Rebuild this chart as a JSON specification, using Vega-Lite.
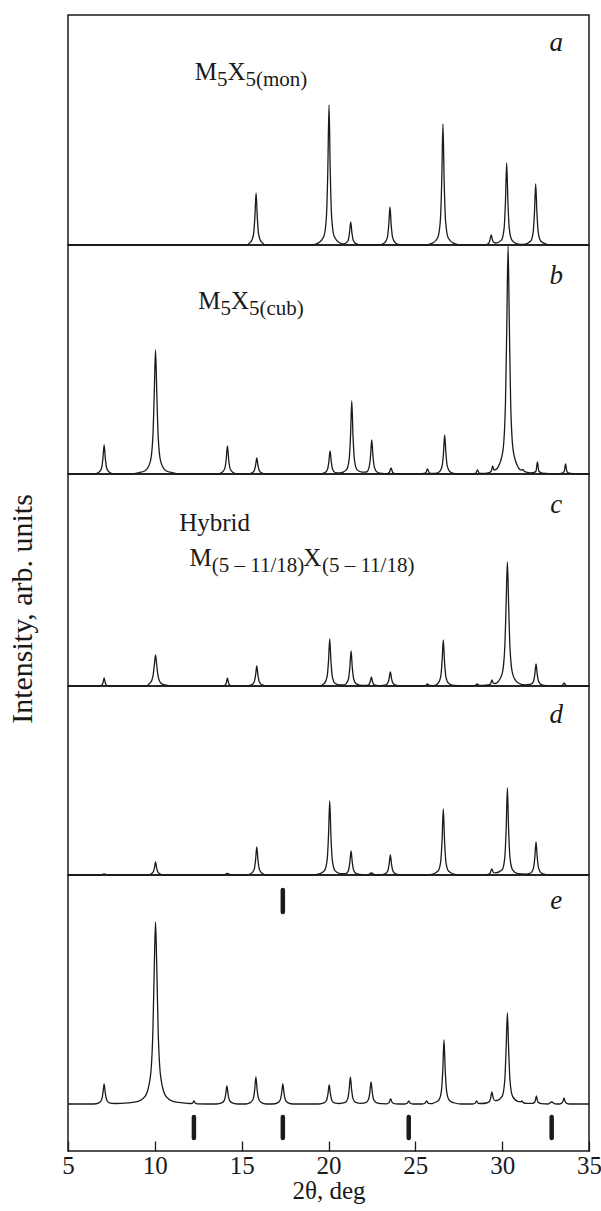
{
"$schema": "https://vega.github.io/schema/vega-lite/v6.json",
"padding": {"left": 7, "top": 14, "right": 0, "bottom": 2},
"bounds": "flush",
"title": {"text": "Intensity, arb. units", "orient": "left", "anchor": "middle", "font": "Liberation Serif", "fontSize": 30, "fontWeight": "normal", "color": "#1a1a1a", "offset": 23},
"spacing": 0,
"config": {"view": {"stroke": "#1a1a1a", "strokeWidth": 1.5}, "font": "Liberation Serif"},
"datasets": {
"sa": [{"x":5,"y":0},{"x":15.23,"y":0},{"x":15.53,"y":3.1},{"x":15.68,"y":10.4},{"x":15.76,"y":27.6},{"x":15.83,"y":52},{"x":15.9,"y":27.6},{"x":15.98,"y":10.4},{"x":16.13,"y":3.1},{"x":16.43,"y":0},{"x":19.03,"y":0},{"x":19.43,"y":2.1},{"x":19.73,"y":8.4},{"x":19.88,"y":28},{"x":19.96,"y":74.2},{"x":20.03,"y":140},{"x":20.1,"y":74.2},{"x":20.18,"y":28},{"x":20.33,"y":8.4},{"x":20.63,"y":2.3},{"x":20.85,"y":1.2},{"x":20.98,"y":1.8},{"x":21.13,"y":4.6},{"x":21.21,"y":12.2},{"x":21.28,"y":23},{"x":21.35,"y":12.2},{"x":21.43,"y":4.6},{"x":21.58,"y":1.4},{"x":21.88,"y":0},{"x":22.94,"y":0},{"x":23.24,"y":2.3},{"x":23.39,"y":7.6},{"x":23.47,"y":20.1},{"x":23.54,"y":38},{"x":23.61,"y":20.1},{"x":23.69,"y":7.6},{"x":23.84,"y":2.3},{"x":24.14,"y":0},{"x":25.59,"y":0},{"x":25.99,"y":1.8},{"x":26.29,"y":7.3},{"x":26.44,"y":24.2},{"x":26.52,"y":64.1},{"x":26.59,"y":121},{"x":26.66,"y":64.1},{"x":26.74,"y":24.2},{"x":26.89,"y":7.3},{"x":27.19,"y":1.8},{"x":27.59,"y":0},{"x":28.97,"y":0},{"x":29.22,"y":1.5},{"x":29.3,"y":5.3},{"x":29.37,"y":10},{"x":29.44,"y":5.3},{"x":29.52,"y":2.5},{"x":29.62,"y":2},{"x":29.96,"y":4.9},{"x":30.11,"y":16.4},{"x":30.19,"y":43.5},{"x":30.26,"y":82},{"x":30.33,"y":43.5},{"x":30.41,"y":16.4},{"x":30.56,"y":4.9},{"x":30.86,"y":1.2},{"x":31.25,"y":0.6},{"x":31.63,"y":3.7},{"x":31.78,"y":12.2},{"x":31.86,"y":32.3},{"x":31.93,"y":61},{"x":32,"y":32.3},{"x":32.08,"y":12.2},{"x":32.23,"y":3.7},{"x":32.53,"y":0.9},{"x":32.93,"y":0},{"x":35,"y":0}],
"sb": [{"x":5,"y":0},{"x":6.48,"y":0},{"x":6.78,"y":1.7},{"x":6.93,"y":5.8},{"x":7.01,"y":15.4},{"x":7.08,"y":29},{"x":7.15,"y":15.4},{"x":7.23,"y":5.8},{"x":7.38,"y":1.7},{"x":7.68,"y":0},{"x":8.44,"y":0},{"x":9.04,"y":1.2},{"x":9.44,"y":3.3},{"x":9.74,"y":12.4},{"x":9.89,"y":38.4},{"x":9.97,"y":83},{"x":10.04,"y":124},{"x":10.11,"y":83},{"x":10.19,"y":38.4},{"x":10.34,"y":12.4},{"x":10.64,"y":3.3},{"x":11.04,"y":1.2},{"x":11.64,"y":0},{"x":13.58,"y":0},{"x":13.88,"y":1.7},{"x":14.03,"y":5.6},{"x":14.11,"y":14.8},{"x":14.18,"y":28},{"x":14.25,"y":14.8},{"x":14.33,"y":5.6},{"x":14.48,"y":1.7},{"x":14.78,"y":0},{"x":15.27,"y":0},{"x":15.57,"y":1},{"x":15.72,"y":3.2},{"x":15.8,"y":8.5},{"x":15.87,"y":16},{"x":15.94,"y":8.5},{"x":16.02,"y":3.2},{"x":16.17,"y":1},{"x":16.47,"y":0},{"x":19.49,"y":0},{"x":19.79,"y":1.4},{"x":19.94,"y":4.6},{"x":20.02,"y":12.2},{"x":20.09,"y":23},{"x":20.16,"y":12.2},{"x":20.24,"y":4.6},{"x":20.39,"y":1.4},{"x":20.7,"y":1.2},{"x":21.04,"y":4.4},{"x":21.19,"y":14.6},{"x":21.27,"y":38.7},{"x":21.34,"y":73},{"x":21.41,"y":38.7},{"x":21.49,"y":14.6},{"x":21.64,"y":4.4},{"x":21.94,"y":1.8},{"x":22.19,"y":2},{"x":22.34,"y":6.8},{"x":22.42,"y":18},{"x":22.49,"y":34},{"x":22.56,"y":18},{"x":22.64,"y":6.8},{"x":22.79,"y":2},{"x":23.09,"y":0.5},{"x":23.35,"y":0.3},{"x":23.5,"y":1.5},{"x":23.6,"y":6},{"x":23.7,"y":1.5},{"x":23.85,"y":0.3},{"x":25.2,"y":0},{"x":25.5,"y":0.5},{"x":25.6,"y":1.2},{"x":25.7,"y":5},{"x":25.8,"y":1.2},{"x":25.95,"y":0.6},{"x":26.1,"y":0.6},{"x":26.39,"y":2.3},{"x":26.54,"y":7.8},{"x":26.62,"y":20.7},{"x":26.69,"y":39},{"x":26.76,"y":20.7},{"x":26.84,"y":7.8},{"x":26.99,"y":2.3},{"x":27.29,"y":0.3},{"x":27.9,"y":0},{"x":28.3,"y":0},{"x":28.48,"y":0.8},{"x":28.58,"y":4},{"x":28.68,"y":0.8},{"x":28.85,"y":0.6},{"x":29.2,"y":1.2},{"x":29.37,"y":2.8},{"x":29.45,"y":8},{"x":29.53,"y":4},{"x":29.62,"y":4.4},{"x":29.74,"y":6.2},{"x":30.04,"y":22.8},{"x":30.19,"y":70.7},{"x":30.27,"y":152.8},{"x":30.34,"y":228},{"x":30.41,"y":152.8},{"x":30.49,"y":70.7},{"x":30.64,"y":22.8},{"x":30.94,"y":6.2},{"x":31.1,"y":3.8},{"x":31.17,"y":4.5},{"x":31.3,"y":2.3},{"x":31.6,"y":1.2},{"x":31.8,"y":1.3},{"x":31.95,"y":3},{"x":32.03,"y":12},{"x":32.11,"y":3},{"x":32.3,"y":0.8},{"x":32.7,"y":0.3},{"x":33.3,"y":0.3},{"x":33.5,"y":1.2},{"x":33.58,"y":3},{"x":33.65,"y":10},{"x":33.72,"y":3},{"x":33.8,"y":1.2},{"x":34.1,"y":0.3},{"x":34.6,"y":0},{"x":35,"y":0}],
"sc": [{"x":5,"y":0},{"x":6.75,"y":0},{"x":6.95,"y":1},{"x":7.02,"y":3.5},{"x":7.08,"y":8},{"x":7.14,"y":3.5},{"x":7.21,"y":1},{"x":7.4,"y":0},{"x":9.44,"y":0},{"x":9.74,"y":3.1},{"x":9.89,"y":9.6},{"x":9.97,"y":20.8},{"x":10.04,"y":31},{"x":10.11,"y":20.8},{"x":10.19,"y":9.6},{"x":10.34,"y":3.1},{"x":10.64,"y":0.8},{"x":11.04,"y":0},{"x":13.85,"y":0},{"x":14.05,"y":1},{"x":14.12,"y":3.5},{"x":14.18,"y":8},{"x":14.24,"y":3.5},{"x":14.31,"y":1},{"x":14.5,"y":0},{"x":15.27,"y":0},{"x":15.57,"y":1.2},{"x":15.72,"y":4},{"x":15.8,"y":10.6},{"x":15.87,"y":20},{"x":15.94,"y":10.6},{"x":16.02,"y":4},{"x":16.17,"y":1.2},{"x":16.47,"y":0},{"x":19.47,"y":0},{"x":19.77,"y":2.8},{"x":19.92,"y":9.4},{"x":20,"y":24.9},{"x":20.07,"y":47},{"x":20.14,"y":24.9},{"x":20.22,"y":9.4},{"x":20.37,"y":2.8},{"x":20.67,"y":1},{"x":20.9,"y":1},{"x":21,"y":2.1},{"x":21.15,"y":7},{"x":21.23,"y":18.6},{"x":21.3,"y":35},{"x":21.37,"y":18.6},{"x":21.45,"y":7},{"x":21.6,"y":2.1},{"x":21.95,"y":0.5},{"x":22.2,"y":0.7},{"x":22.34,"y":1.8},{"x":22.41,"y":4.8},{"x":22.47,"y":9},{"x":22.53,"y":4.8},{"x":22.6,"y":1.8},{"x":22.77,"y":0.6},{"x":23,"y":0.3},{"x":23.26,"y":0.8},{"x":23.41,"y":2.8},{"x":23.49,"y":7.4},{"x":23.56,"y":14},{"x":23.63,"y":7.4},{"x":23.71,"y":2.8},{"x":23.86,"y":0.8},{"x":24.16,"y":0},{"x":25.45,"y":0},{"x":25.6,"y":0.5},{"x":25.7,"y":2},{"x":25.8,"y":0.5},{"x":26.05,"y":0.4},{"x":26.31,"y":2.8},{"x":26.46,"y":9.2},{"x":26.54,"y":24.4},{"x":26.61,"y":46},{"x":26.68,"y":24.4},{"x":26.76,"y":9.2},{"x":26.91,"y":2.8},{"x":27.21,"y":0.5},{"x":27.8,"y":0},{"x":28.3,"y":0},{"x":28.45,"y":0.5},{"x":28.56,"y":2},{"x":28.67,"y":0.5},{"x":28.9,"y":0.5},{"x":29.2,"y":1},{"x":29.33,"y":2},{"x":29.41,"y":6},{"x":29.49,"y":2.8},{"x":29.6,"y":2.5},{"x":29.7,"y":3.3},{"x":30,"y":12.4},{"x":30.15,"y":38.4},{"x":30.23,"y":83},{"x":30.3,"y":124},{"x":30.37,"y":83},{"x":30.45,"y":38.4},{"x":30.6,"y":12.4},{"x":30.9,"y":3.3},{"x":31.3,"y":1.2},{"x":31.65,"y":1.8},{"x":31.8,"y":4.4},{"x":31.88,"y":11.7},{"x":31.95,"y":22},{"x":32.02,"y":11.7},{"x":32.1,"y":4.4},{"x":32.25,"y":1.3},{"x":32.55,"y":0.3},{"x":33.3,"y":0},{"x":33.47,"y":0.7},{"x":33.57,"y":3},{"x":33.67,"y":0.7},{"x":33.85,"y":0},{"x":35,"y":0}],
"sd": [{"x":5,"y":0},{"x":6.85,"y":0},{"x":7.08,"y":1},{"x":7.3,"y":0},{"x":9.6,"y":0},{"x":9.8,"y":1.2},{"x":9.92,"y":3.5},{"x":9.98,"y":7.5},{"x":10.04,"y":13},{"x":10.1,"y":7.5},{"x":10.16,"y":3.5},{"x":10.28,"y":1.2},{"x":10.5,"y":0},{"x":13.95,"y":0},{"x":14.18,"y":1.5},{"x":14.4,"y":0},{"x":15.27,"y":0},{"x":15.57,"y":1.7},{"x":15.72,"y":5.6},{"x":15.8,"y":14.8},{"x":15.87,"y":28},{"x":15.94,"y":14.8},{"x":16.02,"y":5.6},{"x":16.17,"y":1.7},{"x":16.47,"y":0},{"x":19.07,"y":0},{"x":19.47,"y":1.1},{"x":19.77,"y":4.4},{"x":19.92,"y":14.8},{"x":20,"y":39.2},{"x":20.07,"y":74},{"x":20.14,"y":39.2},{"x":20.22,"y":14.8},{"x":20.37,"y":4.4},{"x":20.67,"y":1.4},{"x":21,"y":1.4},{"x":21.15,"y":4.8},{"x":21.23,"y":12.7},{"x":21.3,"y":24},{"x":21.37,"y":12.7},{"x":21.45,"y":4.8},{"x":21.6,"y":1.4},{"x":21.95,"y":0.3},{"x":22.25,"y":0},{"x":22.47,"y":2},{"x":22.7,"y":0},{"x":22.96,"y":0},{"x":23.26,"y":1.2},{"x":23.41,"y":4},{"x":23.49,"y":10.6},{"x":23.56,"y":20},{"x":23.63,"y":10.6},{"x":23.71,"y":4},{"x":23.86,"y":1.2},{"x":24.16,"y":0},{"x":25.61,"y":0},{"x":26.01,"y":1},{"x":26.31,"y":4},{"x":26.46,"y":13.2},{"x":26.54,"y":35},{"x":26.61,"y":66},{"x":26.68,"y":35},{"x":26.76,"y":13.2},{"x":26.91,"y":4},{"x":27.21,"y":1},{"x":27.61,"y":0},{"x":29.1,"y":0.3},{"x":29.3,"y":1.7},{"x":29.4,"y":6},{"x":29.5,"y":2.5},{"x":29.62,"y":2.2},{"x":30,"y":5.2},{"x":30.15,"y":17.4},{"x":30.23,"y":46.1},{"x":30.3,"y":87},{"x":30.37,"y":46.1},{"x":30.45,"y":17.4},{"x":30.6,"y":5.2},{"x":30.9,"y":1.3},{"x":31.35,"y":0.8},{"x":31.65,"y":2},{"x":31.8,"y":6.6},{"x":31.88,"y":17.5},{"x":31.95,"y":33},{"x":32.02,"y":17.5},{"x":32.1,"y":6.6},{"x":32.25,"y":2},{"x":32.55,"y":0.3},{"x":32.95,"y":0},{"x":35,"y":0}],
"se": [{"x":5,"y":0},{"x":6.48,"y":0},{"x":6.78,"y":1.2},{"x":6.93,"y":4},{"x":7.01,"y":10.6},{"x":7.08,"y":20},{"x":7.15,"y":10.6},{"x":7.23,"y":4},{"x":7.38,"y":1.2},{"x":7.68,"y":0.5},{"x":8.44,"y":1.1},{"x":9.04,"y":2.7},{"x":9.44,"y":7.6},{"x":9.74,"y":26.9},{"x":9.89,"y":74.6},{"x":9.97,"y":138},{"x":10.04,"y":182},{"x":10.11,"y":138},{"x":10.19,"y":74.6},{"x":10.34,"y":26.9},{"x":10.64,"y":7.6},{"x":11.04,"y":2.7},{"x":11.64,"y":1.1},{"x":12.0,"y":0.5},{"x":12.1,"y":0.5},{"x":12.18,"y":1},{"x":12.25,"y":3},{"x":12.32,"y":1},{"x":12.45,"y":0.2},{"x":13.55,"y":0},{"x":13.85,"y":1.1},{"x":14,"y":3.6},{"x":14.08,"y":9.5},{"x":14.15,"y":18},{"x":14.22,"y":9.5},{"x":14.3,"y":3.6},{"x":14.45,"y":1.1},{"x":14.75,"y":0},{"x":15.22,"y":0},{"x":15.52,"y":1.6},{"x":15.67,"y":5.4},{"x":15.75,"y":14.3},{"x":15.82,"y":27},{"x":15.89,"y":14.3},{"x":15.97,"y":5.4},{"x":16.12,"y":1.6},{"x":16.42,"y":0},{"x":16.77,"y":0},{"x":17.07,"y":1.2},{"x":17.22,"y":4},{"x":17.3,"y":10.6},{"x":17.37,"y":20},{"x":17.44,"y":10.6},{"x":17.52,"y":4},{"x":17.67,"y":1.2},{"x":17.97,"y":0},{"x":19.44,"y":0},{"x":19.74,"y":1.1},{"x":19.89,"y":3.8},{"x":19.97,"y":10.1},{"x":20.04,"y":19},{"x":20.11,"y":10.1},{"x":20.19,"y":3.8},{"x":20.34,"y":1.1},{"x":20.64,"y":0.5},{"x":20.96,"y":1.6},{"x":21.11,"y":5.4},{"x":21.19,"y":14.3},{"x":21.26,"y":27},{"x":21.33,"y":14.3},{"x":21.41,"y":5.4},{"x":21.56,"y":1.6},{"x":21.86,"y":0.7},{"x":22.15,"y":1.3},{"x":22.3,"y":4.4},{"x":22.38,"y":11.7},{"x":22.45,"y":22},{"x":22.52,"y":11.7},{"x":22.6,"y":4.4},{"x":22.75,"y":1.3},{"x":23.05,"y":0.3},{"x":23.35,"y":0.2},{"x":23.48,"y":1.2},{"x":23.58,"y":5},{"x":23.68,"y":1.2},{"x":23.85,"y":0.2},{"x":24.4,"y":0},{"x":24.53,"y":0.7},{"x":24.62,"y":3},{"x":24.71,"y":0.7},{"x":24.85,"y":0},{"x":25.4,"y":0},{"x":25.55,"y":0.7},{"x":25.65,"y":3},{"x":25.75,"y":0.7},{"x":25.95,"y":0.3},{"x":26.05,"y":1},{"x":26.35,"y":3.8},{"x":26.5,"y":12.8},{"x":26.58,"y":33.9},{"x":26.65,"y":64},{"x":26.72,"y":33.9},{"x":26.8,"y":12.8},{"x":26.95,"y":3.8},{"x":27.25,"y":1},{"x":27.65,"y":0},{"x":28.3,"y":0},{"x":28.44,"y":0.7},{"x":28.53,"y":3},{"x":28.62,"y":0.7},{"x":28.8,"y":0.5},{"x":29.1,"y":1},{"x":29.27,"y":2.5},{"x":29.34,"y":6.4},{"x":29.41,"y":12},{"x":29.48,"y":6.4},{"x":29.58,"y":3.3},{"x":29.7,"y":3.5},{"x":30,"y":7.6},{"x":30.15,"y":23.7},{"x":30.23,"y":56.4},{"x":30.3,"y":91},{"x":30.37,"y":56.4},{"x":30.45,"y":23.7},{"x":30.6,"y":7.6},{"x":30.9,"y":2.6},{"x":31.05,"y":2.2},{"x":31.13,"y":3},{"x":31.22,"y":1.4},{"x":31.4,"y":0.6},{"x":31.75,"y":0.6},{"x":31.88,"y":2},{"x":31.92,"y":4.2},{"x":31.97,"y":8},{"x":32.02,"y":4.2},{"x":32.06,"y":2},{"x":32.25,"y":0.4},{"x":32.65,"y":0},{"x":32.85,"y":2},{"x":33.05,"y":0.2},{"x":33.3,"y":0},{"x":33.45,"y":1.2},{"x":33.51,"y":3.2},{"x":33.56,"y":6},{"x":33.61,"y":3.2},{"x":33.67,"y":1.2},{"x":33.85,"y":0},{"x":35,"y":0}],
"bars": [{"x":17.37,"y1":192,"y2":214},{"x":12.25,"y1":-13,"y2":-34},{"x":17.37,"y1":-13,"y2":-34},{"x":24.62,"y1":-13,"y2":-34},{"x":32.85,"y1":-13,"y2":-34}],
"tags": [{"p":"a","x":33.12,"y":194,"t":"a"},{"p":"b","x":33.12,"y":190,"t":"b"},{"p":"c","x":33.12,"y":173,"t":"c"},{"p":"d","x":33.12,"y":152,"t":"d"},{"p":"e","x":33.12,"y":195,"t":"e"}],
"mains": [{"p":"a","x":12.3,"y":165,"t":"M"},{"p":"a","x":14.18,"y":165,"t":"X"},{"p":"b","x":12.5,"y":165,"t":"M"},{"p":"b","x":14.38,"y":165,"t":"X"},{"p":"c","x":11.4,"y":155,"t":"Hybrid"},{"p":"c","x":12.0,"y":120,"t":"M"},{"p":"c","x":18.55,"y":120,"t":"X"}],
"subs": [{"p":"a","x":13.58,"y":159,"t":"5"},{"p":"a","x":15.22,"y":159,"t":"5(mon)"},{"p":"b","x":13.78,"y":159,"t":"5"},{"p":"b","x":15.42,"y":159,"t":"5(cub)"},{"p":"c","x":13.28,"y":114,"t":"(5 – 11/18)"},{"p":"c","x":19.62,"y":114,"t":"(5 – 11/18)"}]
},
"vconcat": [
{"width": 521, "height": 230, "layer": [
 {"data": {"name": "sa"}, "mark": {"type": "line", "interpolate": "monotone", "stroke": "#1a1a1a", "strokeWidth": 1.3},
  "encoding": {"x": {"field": "x", "type": "quantitative", "scale": {"domain": [5, 35], "nice": false, "zero": false}, "axis": null}, "y": {"field": "y", "type": "quantitative", "scale": {"domain": [0, 230], "nice": false, "zero": false}, "axis": null}}},
 {"data": {"name": "tags"}, "transform": [{"filter": "datum.p === 'a'"}], "mark": {"type": "text", "font": "Liberation Serif", "fontStyle": "italic", "fontSize": 27, "align": "center", "baseline": "alphabetic", "color": "#1a1a1a"},
  "encoding": {"x": {"field": "x", "type": "quantitative"}, "y": {"field": "y", "type": "quantitative"}, "text": {"field": "t"}}},
 {"data": {"name": "mains"}, "transform": [{"filter": "datum.p === 'a'"}], "mark": {"type": "text", "font": "Liberation Serif", "fontSize": 25, "align": "left", "baseline": "alphabetic", "color": "#1a1a1a"},
  "encoding": {"x": {"field": "x", "type": "quantitative"}, "y": {"field": "y", "type": "quantitative"}, "text": {"field": "t"}}},
 {"data": {"name": "subs"}, "transform": [{"filter": "datum.p === 'a'"}], "mark": {"type": "text", "font": "Liberation Serif", "fontSize": 21, "align": "left", "baseline": "alphabetic", "color": "#1a1a1a"},
  "encoding": {"x": {"field": "x", "type": "quantitative"}, "y": {"field": "y", "type": "quantitative"}, "text": {"field": "t"}}}
]},
{"width": 521, "height": 229, "layer": [
 {"data": {"name": "sb"}, "mark": {"type": "line", "interpolate": "monotone", "stroke": "#1a1a1a", "strokeWidth": 1.3},
  "encoding": {"x": {"field": "x", "type": "quantitative", "scale": {"domain": [5, 35], "nice": false, "zero": false}, "axis": null}, "y": {"field": "y", "type": "quantitative", "scale": {"domain": [0, 229], "nice": false, "zero": false}, "axis": null}}},
 {"data": {"name": "tags"}, "transform": [{"filter": "datum.p === 'b'"}], "mark": {"type": "text", "font": "Liberation Serif", "fontStyle": "italic", "fontSize": 27, "align": "center", "baseline": "alphabetic", "color": "#1a1a1a"},
  "encoding": {"x": {"field": "x", "type": "quantitative"}, "y": {"field": "y", "type": "quantitative"}, "text": {"field": "t"}}},
 {"data": {"name": "mains"}, "transform": [{"filter": "datum.p === 'b'"}], "mark": {"type": "text", "font": "Liberation Serif", "fontSize": 25, "align": "left", "baseline": "alphabetic", "color": "#1a1a1a"},
  "encoding": {"x": {"field": "x", "type": "quantitative"}, "y": {"field": "y", "type": "quantitative"}, "text": {"field": "t"}}},
 {"data": {"name": "subs"}, "transform": [{"filter": "datum.p === 'b'"}], "mark": {"type": "text", "font": "Liberation Serif", "fontSize": 21, "align": "left", "baseline": "alphabetic", "color": "#1a1a1a"},
  "encoding": {"x": {"field": "x", "type": "quantitative"}, "y": {"field": "y", "type": "quantitative"}, "text": {"field": "t"}}}
]},
{"width": 521, "height": 212, "layer": [
 {"data": {"name": "sc"}, "mark": {"type": "line", "interpolate": "monotone", "stroke": "#1a1a1a", "strokeWidth": 1.3},
  "encoding": {"x": {"field": "x", "type": "quantitative", "scale": {"domain": [5, 35], "nice": false, "zero": false}, "axis": null}, "y": {"field": "y", "type": "quantitative", "scale": {"domain": [0, 212], "nice": false, "zero": false}, "axis": null}}},
 {"data": {"name": "tags"}, "transform": [{"filter": "datum.p === 'c'"}], "mark": {"type": "text", "font": "Liberation Serif", "fontStyle": "italic", "fontSize": 27, "align": "center", "baseline": "alphabetic", "color": "#1a1a1a"},
  "encoding": {"x": {"field": "x", "type": "quantitative"}, "y": {"field": "y", "type": "quantitative"}, "text": {"field": "t"}}},
 {"data": {"name": "mains"}, "transform": [{"filter": "datum.p === 'c'"}], "mark": {"type": "text", "font": "Liberation Serif", "fontSize": 25, "align": "left", "baseline": "alphabetic", "color": "#1a1a1a"},
  "encoding": {"x": {"field": "x", "type": "quantitative"}, "y": {"field": "y", "type": "quantitative"}, "text": {"field": "t"}}},
 {"data": {"name": "subs"}, "transform": [{"filter": "datum.p === 'c'"}], "mark": {"type": "text", "font": "Liberation Serif", "fontSize": 21, "align": "left", "baseline": "alphabetic", "color": "#1a1a1a"},
  "encoding": {"x": {"field": "x", "type": "quantitative"}, "y": {"field": "y", "type": "quantitative"}, "text": {"field": "t"}}}
]},
{"width": 521, "height": 189, "layer": [
 {"data": {"name": "sd"}, "mark": {"type": "line", "interpolate": "monotone", "stroke": "#1a1a1a", "strokeWidth": 1.3},
  "encoding": {"x": {"field": "x", "type": "quantitative", "scale": {"domain": [5, 35], "nice": false, "zero": false}, "axis": null}, "y": {"field": "y", "type": "quantitative", "scale": {"domain": [0, 189], "nice": false, "zero": false}, "axis": null}}},
 {"data": {"name": "tags"}, "transform": [{"filter": "datum.p === 'd'"}], "mark": {"type": "text", "font": "Liberation Serif", "fontStyle": "italic", "fontSize": 27, "align": "center", "baseline": "alphabetic", "color": "#1a1a1a"},
  "encoding": {"x": {"field": "x", "type": "quantitative"}, "y": {"field": "y", "type": "quantitative"}, "text": {"field": "t"}}}
]},
{"width": 521, "height": 276, "layer": [
 {"data": {"name": "se"}, "mark": {"type": "line", "interpolate": "monotone", "stroke": "#1a1a1a", "strokeWidth": 1.3},
  "encoding": {"x": {"field": "x", "type": "quantitative", "scale": {"domain": [5, 35], "nice": false, "zero": false},
    "axis": {"values": [5, 10, 15, 20, 25, 30, 35], "tickSize": -10, "tickColor": "#1a1a1a", "tickWidth": 1.3, "domain": false, "grid": false, "labelFont": "Liberation Serif", "labelFontSize": 25, "labelColor": "#1a1a1a", "labelPadding": 12, "labelFlush": false, "title": "2θ, deg", "titleFont": "Liberation Serif", "titleFontSize": 25, "titleFontWeight": "normal", "titleColor": "#1a1a1a", "titlePadding": 0}},
   "y": {"field": "y", "type": "quantitative", "scale": {"domain": [-47, 229], "nice": false, "zero": false}, "axis": null}}},
 {"data": {"name": "bars"}, "mark": {"type": "rule", "strokeWidth": 4.5, "strokeCap": "round", "color": "#1a1a1a"},
  "encoding": {"x": {"field": "x", "type": "quantitative"}, "y": {"field": "y1", "type": "quantitative"}, "y2": {"field": "y2"}}},
 {"data": {"name": "tags"}, "transform": [{"filter": "datum.p === 'e'"}], "mark": {"type": "text", "font": "Liberation Serif", "fontStyle": "italic", "fontSize": 27, "align": "center", "baseline": "alphabetic", "color": "#1a1a1a"},
  "encoding": {"x": {"field": "x", "type": "quantitative"}, "y": {"field": "y", "type": "quantitative"}, "text": {"field": "t"}}}
]}
]
}
